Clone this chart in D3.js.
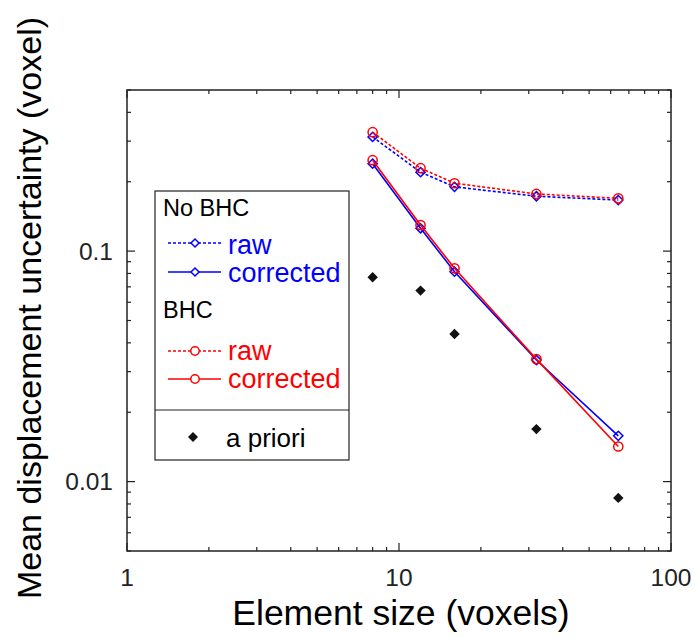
<!DOCTYPE html>
<html><head><meta charset="utf-8">
<script src="https://cdn.jsdelivr.net/npm/d3@7"></script>
<style>body{margin:0;background:#fff}svg{display:block;font-family:"Liberation Sans",Arial,sans-serif}</style>
</head><body>
<svg id="chart" width="695" height="639"></svg>
<script>
const sizes = [8, 12, 16, 32, 64];
const noBhcRaw = [0.313, 0.220, 0.190, 0.173, 0.1665];
const noBhcCorrected = [0.2395, 0.1256, 0.0814, 0.0337, 0.0158];
const bhcRaw = [0.328, 0.229, 0.197, 0.177, 0.1694];
const bhcCorrected = [0.248, 0.1298, 0.0842, 0.0340, 0.0142];
const aPriori = [0.077, 0.0674, 0.0437, 0.0169, 0.0085];
const xTicks = [1, 10, 100];
const yTicks = [0.01, 0.1];
const xTickLabels = ["1", "10", "100"];
const yTickLabels = ["0.01", "0.1"];

const L = 127, R = 671, T = 90, B = 551;
const svg = d3.select("#chart");
const x = d3.scaleLog().domain([1, 100]).range([L, R]);
const y = d3.scaleLog().domain([0.005, 0.5]).range([B, T]);

const axisColor = "#222";
const xMinor = [];
for (let d = 1; d < 100; d *= 10) for (let k = 2; k <= 9; k++) xMinor.push(d * k);
const yMinor = [];
for (let d = 0.001; d < 1; d *= 10) for (let k = 2; k <= 9; k++) { const v = +(d * k).toPrecision(3); if (v >= 0.005 && v <= 0.5) yMinor.push(v); }

const g = svg.append("g");
function ticks(vals, len) {
  vals.forEach(v => {
    const px = x(v);
    g.append("line").attr("x1", px).attr("x2", px).attr("y1", B).attr("y2", B - len);
    g.append("line").attr("x1", px).attr("x2", px).attr("y1", T).attr("y2", T + len);
  });
}
function yticks(vals, len) {
  vals.forEach(v => {
    const py = y(v);
    g.append("line").attr("y1", py).attr("y2", py).attr("x1", L).attr("x2", L + len);
    g.append("line").attr("y1", py).attr("y2", py).attr("x1", R).attr("x2", R - len);
  });
}
ticks(xMinor, 4); ticks(xTicks, 8);
yticks(yMinor, 4); yticks(yTicks, 8);
g.selectAll("line").attr("stroke", axisColor).attr("stroke-width", 1.2);
g.append("rect").attr("x", L).attr("y", T).attr("width", R - L).attr("height", B - T)
  .attr("fill", "none").attr("stroke", axisColor).attr("stroke-width", 1.5);

xTicks.forEach((v, i) => svg.append("text").attr("x", x(v)).attr("y", 586).attr("text-anchor", "middle")
  .attr("font-size", 24.5).attr("fill", "#222").text(xTickLabels[i]));
yTicks.forEach((v, i) => svg.append("text").attr("x", 113).attr("y", y(v) + 8.7).attr("text-anchor", "end")
  .attr("font-size", 24.5).attr("fill", "#222").text(yTickLabels[i]));

svg.append("text").attr("x", 401).attr("y", 625).attr("text-anchor", "middle").attr("font-size", 35.5)
  .attr("fill", "#000").text("Element size (voxels)");
svg.append("text").attr("transform", "translate(41,308) rotate(-90)").attr("text-anchor", "middle")
  .attr("font-size", 34).attr("fill", "#000").text("Mean displacement uncertainty (voxel)");

const diamond = h => `M0,${-h}L${h},0L0,${h}L${-h},0Z`;
const line = d3.line().x(d => x(d[0])).y(d => y(d[1]));
const series = [
  { vals: noBhcRaw, color: "#0000ff", dash: "3,2", marker: "diamond" },
  { vals: bhcRaw, color: "#ff0000", dash: "3,2", marker: "circle" },
  { vals: noBhcCorrected, color: "#0000ff", dash: null, marker: "diamond" },
  { vals: bhcCorrected, color: "#ff0000", dash: null, marker: "circle" }
];
const plot = svg.append("g");
function drawMarker(sel, type, color) {
  if (type === "diamond") sel.append("path").attr("d", diamond(4.6)).attr("fill", "none").attr("stroke", color).attr("stroke-width", 1.5);
  else sel.append("circle").attr("r", 4.6).attr("fill", "none").attr("stroke", color).attr("stroke-width", 1.5);
}
series.forEach(s => {
  const pts = sizes.map((v, i) => [v, s.vals[i]]);
  plot.append("path").attr("d", line(pts)).attr("fill", "none").attr("stroke", s.color)
    .attr("stroke-width", 1.6).attr("stroke-dasharray", s.dash);
  pts.forEach(p => {
    const m = plot.append("g").attr("transform", `translate(${x(p[0])},${y(p[1])})`);
    drawMarker(m, s.marker, s.color);
  });
});
sizes.forEach((v, i) => plot.append("path").attr("d", diamond(5.2))
  .attr("transform", `translate(${x(v)},${y(aPriori[i])})`).attr("fill", "#111"));

const lg = svg.append("g");
lg.append("rect").attr("x", 155).attr("y", 191).attr("width", 194).attr("height", 269)
  .attr("fill", "#fff").attr("stroke", "#222").attr("stroke-width", 1.2);
lg.append("line").attr("x1", 155).attr("x2", 349).attr("y1", 410).attr("y2", 410).attr("stroke", "#222").attr("stroke-width", 1.2);
lg.append("text").attr("x", 163).attr("y", 216).attr("font-size", 23.5).text("No BHC");
lg.append("text").attr("x", 163).attr("y", 318).attr("font-size", 23.5).text("BHC");
const items = [
  { y: 243, ty: 254, color: "#0000ff", dash: "3,2", marker: "diamond", label: "raw" },
  { y: 272, ty: 282, color: "#0000ff", dash: null, marker: "diamond", label: "corrected" },
  { y: 351, ty: 360, color: "#ff0000", dash: "3,2", marker: "circle", label: "raw" },
  { y: 379, ty: 388, color: "#ff0000", dash: null, marker: "circle", label: "corrected" }
];
items.forEach(it => {
  lg.append("line").attr("x1", 168).attr("x2", 221).attr("y1", it.y).attr("y2", it.y)
    .attr("stroke", it.color).attr("stroke-width", 1.5).attr("stroke-dasharray", it.dash);
  const m = lg.append("g").attr("transform", `translate(195,${it.y})`);
  if (it.marker === "diamond") m.append("path").attr("d", diamond(4)).attr("fill", "#fff").attr("stroke", it.color).attr("stroke-width", 1.5);
  else m.append("circle").attr("r", 4.2).attr("fill", "#fff").attr("stroke", it.color).attr("stroke-width", 1.5);
  lg.append("text").attr("x", 228).attr("y", it.ty).attr("font-size", 27).attr("fill", it.color).text(it.label);
});
lg.append("path").attr("d", diamond(5)).attr("transform", "translate(193,437)").attr("fill", "#111");
lg.append("text").attr("x", 226).attr("y", 447).attr("font-size", 26).attr("fill", "#000").text("a priori");
</script>
</body></html>
